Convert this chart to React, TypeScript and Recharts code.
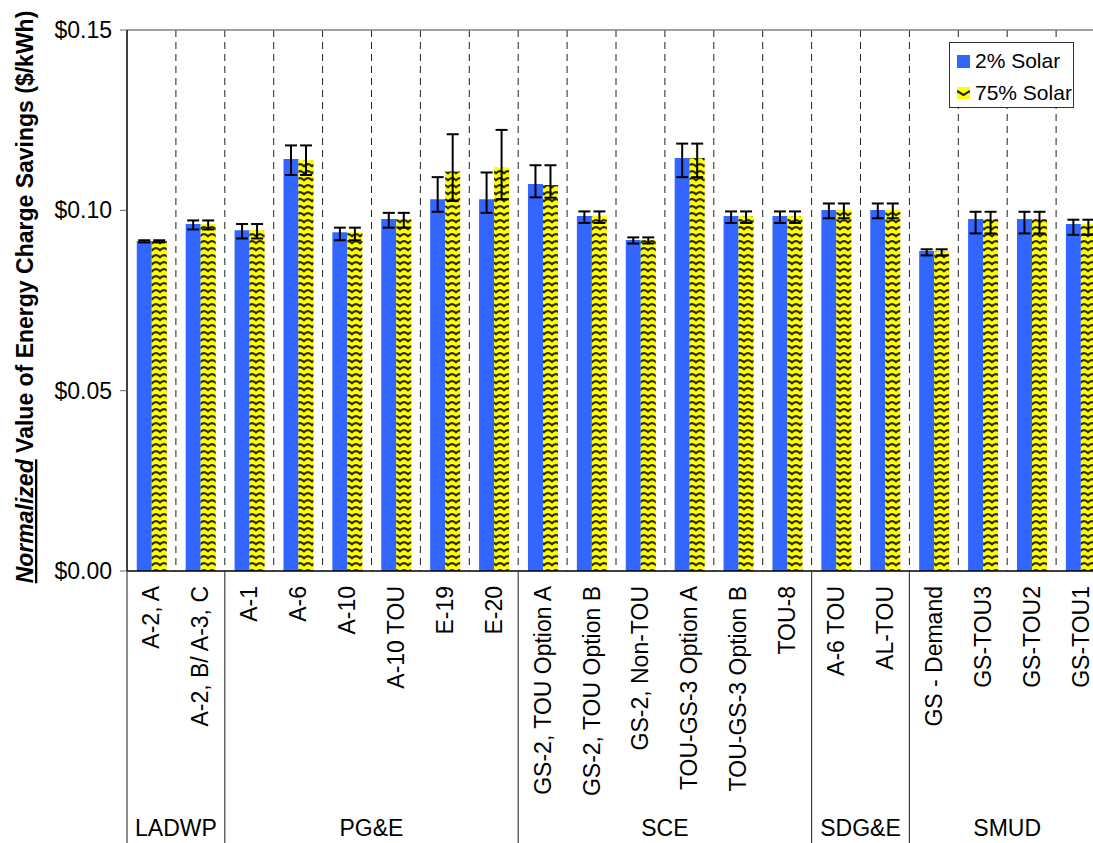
import {
  BarChart,
  Bar,
  XAxis,
  YAxis,
  CartesianGrid,
  ErrorBar,
  Legend,
  ReferenceLine,
  Label,
} from "recharts"

// rate schedules, in plot order
const categories = [
  "A-2, A", "A-2, B/ A-3, C",
  "A-1", "A-6", "A-10", "A-10 TOU", "E-19", "E-20",
  "GS-2, TOU Option A", "GS-2, TOU Option B", "GS-2, Non-TOU",
  "TOU-GS-3 Option A", "TOU-GS-3 Option B", "TOU-8",
  "A-6 TOU", "AL-TOU",
  "GS - Demand", "GS-TOU3", "GS-TOU2", "GS-TOU1",
]
const utilities = ["LADWP", "PG&E", "SCE", "SDG&E", "SMUD"]
const utilitySizes = [2, 6, 6, 2, 4]

const solar2 = [0.0915, 0.0962, 0.0945, 0.1142, 0.0939, 0.0976, 0.1031, 0.1031, 0.1073, 0.0984,
  0.0918, 0.1145, 0.0984, 0.0984, 0.1001, 0.1001, 0.0887, 0.0976, 0.0976, 0.0962]
const solar75 = [0.0915, 0.0962, 0.0945, 0.1139, 0.0939, 0.0976, 0.1108, 0.1119, 0.1070, 0.0984,
  0.0918, 0.1145, 0.0984, 0.0984, 0.1001, 0.1001, 0.0887, 0.0976, 0.0976, 0.0962]
// [minus, plus]
const err2 = [[0.0004, 0.0002], [0.0015, 0.0010], [0.0023, 0.0017], [0.0044, 0.0038], [0.0022, 0.0013],
  [0.0024, 0.0017], [0.0035, 0.0061], [0.0038, 0.0074], [0.0037, 0.0052], [0.0019, 0.0013],
  [0.0010, 0.0007], [0.0053, 0.0040], [0.0019, 0.0013], [0.0019, 0.0013], [0.0023, 0.0018],
  [0.0023, 0.0018], [0.0012, 0.0005], [0.0040, 0.0020], [0.0040, 0.0020], [0.0030, 0.0012]]
const err75 = [[0.0004, 0.0002], [0.0015, 0.0010], [0.0023, 0.0017], [0.0041, 0.0041], [0.0022, 0.0013],
  [0.0024, 0.0017], [0.0082, 0.0103], [0.0088, 0.0104], [0.0035, 0.0055], [0.0019, 0.0013],
  [0.0010, 0.0007], [0.0053, 0.0040], [0.0019, 0.0013], [0.0019, 0.0013], [0.0023, 0.0018],
  [0.0023, 0.0018], [0.0012, 0.0005], [0.0040, 0.0020], [0.0040, 0.0020], [0.0030, 0.0012]]
const yTicks = [0, 0.05, 0.1, 0.15]

const data = categories.map((name, i) => ({
  name,
  solar2: solar2[i],
  solar75: solar75[i],
  err2: err2[i],
  err75: err75[i],
}))

const CHART_W = 1110
const CHART_H = 843
const PLOT_LEFT = 127
const PLOT_TOP = 30
const PLOT_BOTTOM = 571
const PLOT_W = 978
const BAND = PLOT_W / categories.length
const FONT = "'Liberation Sans', Arial, sans-serif"

const groupStarts = utilitySizes.map((_, g) => utilitySizes.slice(0, g).reduce((a, b) => a + b, 0))
const boundaries = categories.slice(1).map((_, i) => PLOT_LEFT + (i + 1) * BAND)

function CategoryTick(props: any) {
  const { x, payload } = props
  const i = categories.indexOf(payload.value)
  const left = x - BAND / 2
  const g = groupStarts.indexOf(i)
  return (
    <g>
      <text
        transform={`translate(${x + 8},586) rotate(-90)`}
        textAnchor="end"
        fontSize={23}
        fill="#000"
      >
        {payload.value}
      </text>
      {g >= 0 && (
        <>
          <line x1={left} x2={left} y1={PLOT_BOTTOM} y2={CHART_H} stroke="#404040" strokeWidth={1.2} />
          <text x={left + (utilitySizes[g] * BAND) / 2} y={836} textAnchor="middle" fontSize={23} fill="#000">
            {utilities[g]}
          </text>
        </>
      )}
    </g>
  )
}

const Chevron = () => (
  <svg width={13} height={12} style={{ display: "block" }}>
    <rect width={13} height={12} fill="#FFFF00" />
    <path d="M0 4 L6.5 8 L13 4" fill="none" stroke="#222" strokeWidth={2.2} />
  </svg>
)

const renderLegend = () => (
  <div
    style={{
      boxSizing: "border-box",
      width: 125,
      height: 66,
      border: "1.5px solid #333",
      background: "#fff",
      fontSize: 21,
      color: "#000",
      paddingTop: 2,
      paddingLeft: 7,
      fontFamily: FONT,
    }}
  >
    <div style={{ display: "flex", alignItems: "center", height: 32 }}>
      <div style={{ width: 13, height: 13, background: "#3366FF" }} />
      <span style={{ marginLeft: 5 }}>2% Solar</span>
    </div>
    <div style={{ display: "flex", alignItems: "center", height: 32 }}>
      <Chevron />
      <span style={{ marginLeft: 5 }}>75% Solar</span>
    </div>
  </div>
)

export default function App() {
  return (
    <div
      style={{
        position: "fixed",
        left: 0,
        top: 0,
        width: 1093,
        height: 843,
        overflow: "hidden",
        background: "#fff",
        fontFamily: FONT,
      }}
    >
      <BarChart
        width={CHART_W}
        height={CHART_H}
        data={data}
        margin={{ top: PLOT_TOP, right: CHART_W - PLOT_LEFT - PLOT_W, bottom: 0, left: 0 }}
        barGap={0}
        barCategoryGap="20%"
      >
        <defs>
          <pattern id="zig" width="8" height="7" patternUnits="userSpaceOnUse">
            <rect width="8" height="7" fill="#FFFF00" />
            <path d="M-0.5 5.8 Q4 0.6 8.5 5.8" fill="none" stroke="#141400" strokeWidth="2.2" strokeOpacity="0.9" />
          </pattern>
        </defs>
        <CartesianGrid
          horizontal={false}
          vertical
          verticalCoordinatesGenerator={() => boundaries}
          stroke="#222"
          strokeDasharray="7 5"
        />
        <ReferenceLine y={0.15} stroke="#808080" strokeWidth={1.5} />
        <XAxis
          dataKey="name"
          interval={0}
          height={CHART_H - PLOT_BOTTOM}
          tickLine={false}
          axisLine={{ stroke: "#000", strokeWidth: 1.5 }}
          tick={<CategoryTick />}
        />
        <YAxis
          width={PLOT_LEFT}
          domain={[0, 0.15]}
          ticks={yTicks}
          tickFormatter={(v: number) => `$${v.toFixed(2)}`}
          tick={{ fill: "#000", fontSize: 23 }}
          tickSize={7}
          tickMargin={8}
          tickLine={{ stroke: "#666" }}
          axisLine={{ stroke: "#000", strokeWidth: 1.5 }}
        >
          <Label
            content={() => (
              <text
                transform="translate(33,297) rotate(-90)"
                textAnchor="middle"
                fontSize={23}
                fontWeight="bold"
                fill="#000"
              >
                <tspan fontStyle="italic" textDecoration="underline">Normalized</tspan>
                <tspan>{" Value of Energy Charge Savings ($/kWh)"}</tspan>
              </text>
            )}
          />
        </YAxis>
        <Legend
          layout="horizontal"
          align="center"
          verticalAlign="middle"
          content={renderLegend}
          wrapperStyle={{ left: 949, top: 42, width: 125, height: 66 }}
        />
        <Bar dataKey="solar2" name="2% Solar" fill="#3366FF" isAnimationActive={false}>
          <ErrorBar dataKey="err2" width={6} strokeWidth={2} stroke="#000" isAnimationActive={false} />
        </Bar>
        <Bar dataKey="solar75" name="75% Solar" fill="url(#zig)" isAnimationActive={false}>
          <ErrorBar dataKey="err75" width={6} strokeWidth={2} stroke="#000" isAnimationActive={false} />
        </Bar>
      </BarChart>
    </div>
  )
}
